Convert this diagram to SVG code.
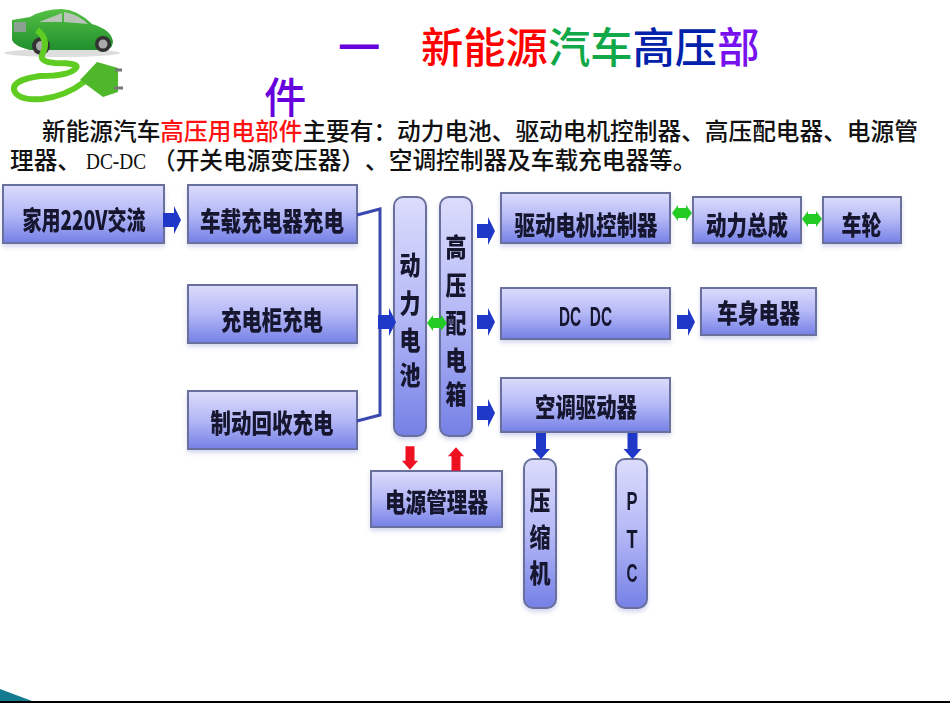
<svg xmlns="http://www.w3.org/2000/svg" width="950" height="713" viewBox="0 0 950 713">
<style>
text{font-family:"Noto Sans CJK SC","Liberation Sans",sans-serif;text-spacing-trim:space-all}
.t{font-size:42.3px;font-weight:500}
.b{font-size:23.68px;fill:#111;font-weight:500}
.m{font-family:"Liberation Serif",serif;font-size:24px}
.n{font-size:26px;font-weight:900;fill:#14142e;text-anchor:middle}
.l{font-family:"Liberation Sans",sans-serif;font-weight:700}
.box{fill:url(#g);stroke:#6a6f9c;stroke-width:2}
.blue{fill:#2038c8}.green{fill:#22cc22}.red{fill:#ee1122}
.con{fill:none;stroke:#3a48b0;stroke-width:3}
.node{filter:url(#s)}
</style>
<defs>
<linearGradient id="g" x1="0" y1="0" x2="0" y2="1"><stop offset="0" stop-color="#dcdcfc"/><stop offset=".5" stop-color="#b4b8f6"/><stop offset="1" stop-color="#7580e6"/></linearGradient>
<linearGradient id="cg" x1="0" y1="0" x2="0" y2="1"><stop offset="0" stop-color="#55c044"/><stop offset="1" stop-color="#1f8f2c"/></linearGradient>
<filter id="s" x="-10%" y="-10%" width="120%" height="130%"><feDropShadow dx="0" dy="3" stdDeviation="2" flood-color="#8890d0" flood-opacity=".35"/><feGaussianBlur stdDeviation=".5"/></filter>
<filter id="soft"><feGaussianBlur stdDeviation=".6"/></filter>
<path id="ar" d="M-9-7H2V-14L9 0L2 14V7H-9Z"/>
<path id="ad" d="M-13-5H3V-9L13 0L3 9V5H-13Z"/>
<path id="dbl" d="M-10 0L-4-8V-5H4V-8L10 0L4 8V5H-4V8Z"/>
</defs>

<g id="car" filter="url(#soft)">
<ellipse cx="62" cy="53" rx="58" ry="4" fill="#ddd"/>
<path d="M12 20L30 17Q44 9 62 9Q78 10 92 24Q112 30 113 42Q112 50 104 50L30 50Q14 46 12 40Z" fill="url(#cg)"/>
<path d="M39 22L62 13V22ZM64 12Q78 14 88 24L64 22Z" fill="#b8c4b8"/>
<rect x="14" y="22" width="12" height="10" fill="#8aa090"/>
<circle cx="41" cy="46" r="9" fill="#333"/><circle cx="41" cy="46" r="5" fill="#aaa"/>
<circle cx="103" cy="44" r="8" fill="#333"/><circle cx="103" cy="44" r="4.500" fill="#aaa"/>
<path d="M37 30Q50 40 42 55Q40 62 55 63Q80 63 76 68Q70 76 40 76Q12 80 14 90Q18 101 42 99Q66 96 84 82" fill="none" stroke="#5fcc22" stroke-width="6"/>
<path d="M80 80L97 62L118 68L118 92L103 97Z" fill="#4fb82a"/>
<path d="M115 70H122M114 88H123" stroke="#777" stroke-width="3"/>
</g>

<g id="title">
<text class="t" x="338" y="63" fill="#6600dd">一</text>
<text class="t" x="421" y="63" fill="#ff0000">新能源<tspan fill="#11a84a">汽车</tspan><tspan fill="#0022aa">高压</tspan><tspan fill="#7711ee">部</tspan></text>
<text class="t" x="264" y="113" fill="#6600dd">件</text>
</g>
<g id="body">
<text class="b" x="42" y="140">新能源汽车<tspan fill="#ff1111">高压用电部件</tspan>主要有：动力电池、驱动电机控制器、高压配电器、电源管</text>
<text class="b" x="10" y="169">理器、<tspan class="m" x="86" textLength="60" lengthAdjust="spacingAndGlyphs">DC-DC</tspan><tspan x="152">（开关电源变压器）、空调控制器及车载充电器等。</tspan></text>
</g>

<g id="n1" class="node"><rect class="box" x="3" y="185" width="161" height="58"/><text class="n" x="84" y="230" textLength="123" lengthAdjust="spacingAndGlyphs">家用220V交流</text></g>
<g id="n2" class="node"><rect class="box" x="188" y="185" width="169" height="58"/><text class="n" x="272" y="231" textLength="144" lengthAdjust="spacingAndGlyphs">车载充电器充电</text></g>
<g id="n3" class="node"><rect class="box" x="188" y="285" width="169" height="58"/><text class="n" x="272" y="330" textLength="102" lengthAdjust="spacingAndGlyphs">充电柜充电</text></g>
<g id="n4" class="node"><rect class="box" x="188" y="391" width="169" height="58"/><text class="n" x="272" y="433" textLength="123" lengthAdjust="spacingAndGlyphs">制动回收充电</text></g>
<g id="n5" class="node"><rect class="box" x="394" y="197" width="32" height="239" rx="9"/><text class="n" x="410" y="275" textLength="21" lengthAdjust="spacingAndGlyphs">动</text><text class="n" x="410" y="313" textLength="21" lengthAdjust="spacingAndGlyphs">力</text><text class="n" x="410" y="350" textLength="21" lengthAdjust="spacingAndGlyphs">电</text><text class="n" x="410" y="385" textLength="21" lengthAdjust="spacingAndGlyphs">池</text></g>
<g id="n6" class="node"><rect class="box" x="440" y="197" width="32" height="239" rx="9"/><text class="n" x="456" y="257" textLength="21" lengthAdjust="spacingAndGlyphs">高</text><text class="n" x="456" y="295" textLength="21" lengthAdjust="spacingAndGlyphs">压</text><text class="n" x="456" y="333" textLength="21" lengthAdjust="spacingAndGlyphs">配</text><text class="n" x="456" y="370" textLength="21" lengthAdjust="spacingAndGlyphs">电</text><text class="n" x="456" y="404" textLength="21" lengthAdjust="spacingAndGlyphs">箱</text></g>
<g id="n7" class="node"><rect class="box" x="501" y="193" width="169" height="50"/><text class="n" x="586" y="235" textLength="143" lengthAdjust="spacingAndGlyphs">驱动电机控制器</text></g>
<g id="n8" class="node"><rect class="box" x="693" y="197" width="108" height="46"/><text class="n" x="747" y="235" textLength="82" lengthAdjust="spacingAndGlyphs">动力总成</text></g>
<g id="n9" class="node"><rect class="box" x="823" y="197" width="78" height="46"/><text class="n" x="861.500" y="235" textLength="40" lengthAdjust="spacingAndGlyphs">车轮</text></g>
<g id="n10" class="node"><rect class="box" x="501" y="288" width="169" height="51"/><text class="n l" x="585.500" y="326" style="font-size:28px" textLength="53" lengthAdjust="spacingAndGlyphs" xml:space="preserve">DC  DC</text></g>
<g id="n11" class="node"><rect class="box" x="701" y="288" width="115" height="47"/><text class="n" x="758.500" y="323" textLength="83" lengthAdjust="spacingAndGlyphs">车身电器</text></g>
<g id="n12" class="node"><rect class="box" x="501" y="378" width="169" height="54"/><text class="n" x="586" y="417" textLength="102" lengthAdjust="spacingAndGlyphs">空调驱动器</text></g>
<g id="n13" class="node"><rect class="box" x="371" y="471" width="131" height="56"/><text class="n" x="436.500" y="512" textLength="103" lengthAdjust="spacingAndGlyphs">电源管理器</text></g>
<g id="n14" class="node"><rect class="box" x="524" y="459" width="32" height="149" rx="9"/><text class="n" x="540" y="510" textLength="21" lengthAdjust="spacingAndGlyphs">压</text><text class="n" x="540" y="547" textLength="21" lengthAdjust="spacingAndGlyphs">缩</text><text class="n" x="540" y="583" textLength="21" lengthAdjust="spacingAndGlyphs">机</text></g>
<g id="n15" class="node"><rect class="box" x="616" y="459" width="31" height="149" rx="9"/><text class="n l" x="632" y="510" textLength="11" lengthAdjust="spacingAndGlyphs">P</text><text class="n l" x="632" y="548" textLength="11" lengthAdjust="spacingAndGlyphs">T</text><text class="n l" x="632" y="582" textLength="11" lengthAdjust="spacingAndGlyphs">C</text></g>

<g id="connectors">
<path class="con" d="M357 215L380 209V415L357 421"/>
<use href="#ar" class="blue" x="172" y="220"/>
<use href="#ar" class="blue" x="387" y="322"/>
<use href="#dbl" class="green" x="437" y="323"/>
<use href="#ar" class="blue" x="486" y="231"/>
<use href="#ar" class="blue" x="486" y="322"/>
<use href="#ar" class="blue" x="486" y="413"/>
<use href="#dbl" class="green" x="682" y="213"/>
<use href="#dbl" class="green" x="812" y="219"/>
<use href="#ar" class="blue" x="686" y="322"/>
<use href="#ad" class="red" transform="translate(410 458) rotate(90) scale(.9)"/>
<use href="#ad" class="red" transform="translate(456 459) rotate(-90) scale(.9)"/>
<use href="#ad" class="blue" transform="translate(541 446) rotate(90)"/>
<use href="#ad" class="blue" transform="translate(632.500 446) rotate(90)"/>
</g>

<g id="footer">
<polygon points="0,689 32,701 0,701" fill="#137a90"/>
<rect x="0" y="701" width="950" height="2" fill="#000"/>
</g>
</svg>
